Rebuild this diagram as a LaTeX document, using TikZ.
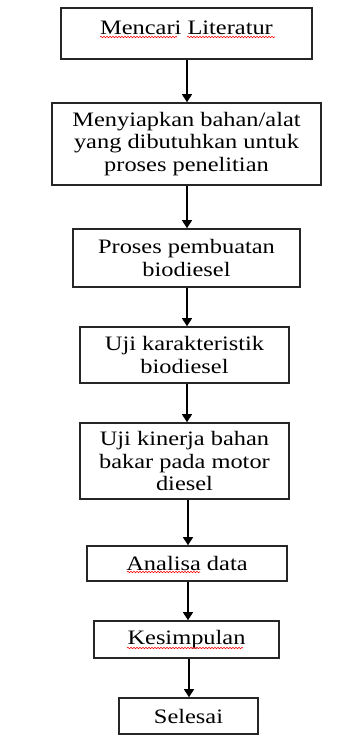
\documentclass[tikz,border=0pt]{standalone}
\usepackage{fontspec}
\setmainfont[FakeStretch=1.19]{Liberation Serif}
\usetikzlibrary{arrows.meta,decorations.pathmorphing}
\begin{document}
\begin{tikzpicture}[x=1pt,y=-1pt,
  box/.style={draw=black!85, line width=1.6pt, align=center, inner sep=0pt,
    font=\fontsize{20.5}{22.3}\selectfont},
  arr/.style={draw=black, line width=1.3pt, -{Triangle[width=10pt,length=8pt]}},
  squig/.style={draw=red, line width=0.6pt, decorate,
    decoration={snake, segment length=3pt, amplitude=0.7pt}}]
\useasboundingbox (0,0) rectangle (340,736);
\node[box, minimum width=251pt, minimum height=51pt, text depth=12pt] (b1) at (186.5,33.5) {Mencari Literatur};
\node[box, minimum width=269pt, minimum height=82pt] (b2) at (186.5,144) {Menyiapkan bahan/alat\\yang dibutuhkan untuk\\proses penelitian};
\node[box, minimum width=227pt, minimum height=58pt] (b3) at (186.5,258) {Proses pembuatan\\biodiesel};
\node[box, minimum width=209pt, minimum height=56pt] (b4) at (184.5,355) {Uji karakteristik\\biodiesel};
\node[box, minimum width=209pt, minimum height=76pt] (b5) at (184.5,461) {Uji kinerja bahan\\bakar pada motor\\diesel};
\node[box, minimum width=200pt, minimum height=35pt] (b6) at (187,563.5) {Analisa data};
\node[box, minimum width=185pt, minimum height=37pt] (b7) at (186.5,639.5) {Kesimpulan};
\node[box, minimum width=139pt, minimum height=36pt] (b8) at (188.5,716) {Selesai};
\coordinate (ax1) at (187,0);
\coordinate (ax2) at (188,0);
\coordinate (ax3) at (189,0);
\draw[arr] (b1.south -| ax1) -- (b2.north -| ax1);
\draw[arr] (b2.south -| ax1) -- (b3.north -| ax1);
\draw[arr] (b3.south -| ax1) -- (b4.north -| ax1);
\draw[arr] (b4.south -| ax1) -- (b5.north -| ax1);
\draw[arr] (b5.south -| ax2) -- (b6.north -| ax2);
\draw[arr] (b6.south -| ax2) -- (b7.north -| ax2);
\draw[arr] (b7.south -| ax3) -- (b8.north -| ax3);
\draw[squig] (100,37) -- (177,37);
\draw[squig] (187,37) -- (275,37);
\draw[squig] (127,572) -- (200,572);
\draw[squig] (127,648) -- (243,648);
\end{tikzpicture}
\end{document}
